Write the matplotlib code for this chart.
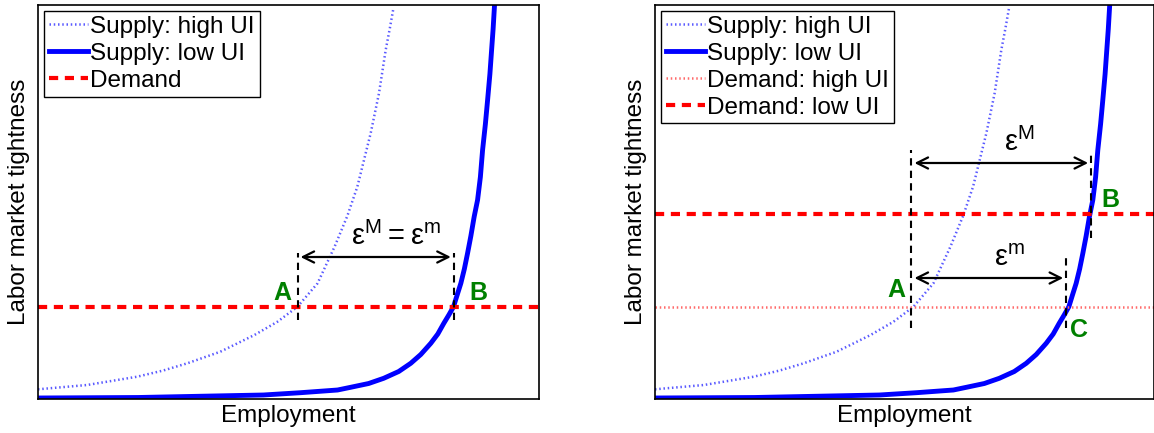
import matplotlib
matplotlib.use('Agg')
import matplotlib.pyplot as plt

plt.rcParams['font.family'] = ['Liberation Sans', 'DejaVu Sans']
plt.rcParams['mathtext.fontset'] = 'custom'
plt.rcParams['mathtext.rm'] = 'Liberation Sans'

# curves (x: employment, y: tightness, arbitrary units)
supply_low_x = [0, 100, 225, 262, 299, 312, 330, 345, 360, 372, 382, 392, 399, 405, 410,
                414.7, 418, 422, 425.5, 428.7, 432, 435.3, 438.7, 441.5, 443.7, 446.5,
                448.7, 451, 452.7, 454.2, 455.5]
supply_low_y = [1, 1.5, 4, 6.3, 9, 11.7, 15.5, 20.7, 27.5, 35.7, 44.5, 55.7, 65, 75.7, 84,
                92.3, 103, 115.7, 130, 145.7, 163, 182.3, 199, 222, 249, 275,
                299, 325, 349, 370, 392]

supply_high_x = [0, 49, 99, 125, 149, 182, 216, 239, 259, 279, 296, 308.7, 318.7, 332,
                 340.3, 347, 351, 354.7]
supply_high_y = [9.7, 14, 22.3, 28.5, 35.7, 47.3, 64, 77.3, 92.3, 115.7, 152.3, 183, 212.3,
                 265.7, 305.7, 349, 370, 390.7]

demand_left = 92
demand_high = 92
demand_low = 185

# equilibrium positions
left_A, left_B = 259, 415
right_A, right_B, right_C = 257, 437, 412

XMAX, YMAX = 500, 394


def draw_supply(ax):
    ax.plot(supply_high_x, supply_high_y, color='#5a5aff', lw=1.8, ls=(0, (0.6, 1.1)),
            label='Supply: high UI')
    ax.plot(supply_low_x, supply_low_y, color='#0000ff', lw=3.5, label='Supply: low UI')


def vdash(ax, x, y0, y1):
    ax.plot([x, x], [y0, y1], color='k', lw=1.5, ls=(0, (3.5, 2.5)), zorder=4)


def arrow(ax, x0, x1, y):
    ax.annotate('', xy=(x0, y), xytext=(x1, y),
                arrowprops=dict(arrowstyle='<->', color='k', lw=1.6, mutation_scale=20,
                                shrinkA=0, shrinkB=0))


def setup(ax):
    ax.set_xlim(0, XMAX)
    ax.set_ylim(0, YMAX)
    ax.set_xticks([])
    ax.set_yticks([])
    for s in ax.spines.values():
        s.set_linewidth(1.2)
    ax.set_xlabel('Employment', fontsize=17.5, labelpad=4)
    ax.set_ylabel('Labor market tightness', fontsize=17.5, labelpad=6)


green = '#008000'
fig = plt.figure(figsize=(11.54, 4.33), dpi=100)

# left panel
ax1 = fig.add_axes([38 / 1154, 34 / 433, 501 / 1154, 394 / 433])
draw_supply(ax1)
ax1.axhline(demand_left, color='#ff0000', lw=3, ls=(0, (2.2, 1.6)), label='Demand')
vdash(ax1, left_A, 79, 146)
vdash(ax1, left_B, 79, 146)
arrow(ax1, left_A + 3, left_B - 3, 142)
ax1.text(357, 148, r'$\mathregular{ε^M = ε^m}$', fontsize=21, ha='center', va='bottom')
ax1.text(244, 106, 'A', color=green, fontsize=18, fontweight='bold', ha='center', va='center')
ax1.text(439, 106, 'B', color=green, fontsize=18, fontweight='bold', ha='center', va='center')
setup(ax1)

# right panel
ax2 = fig.add_axes([655 / 1154, 34 / 433, 499 / 1154, 394 / 433])
draw_supply(ax2)
ax2.axhline(demand_high, color='#ff6a6a', lw=1.8, ls=(0, (0.6, 1.1)), label='Demand: high UI')
ax2.axhline(demand_low, color='#ff0000', lw=3, ls=(0, (2.2, 1.6)), label='Demand: low UI')
vdash(ax2, right_A, 71, 249)
vdash(ax2, right_B, 161, 247)
vdash(ax2, right_C, 71, 146)
arrow(ax2, right_A + 3, right_B - 3, 236)
arrow(ax2, right_A + 3, right_C - 3, 121)
ax2.text(365, 242, r'$\mathregular{ε^M}$', fontsize=21, ha='center', va='bottom')
ax2.text(355, 127, r'$\mathregular{ε^m}$', fontsize=21, ha='center', va='bottom')
ax2.text(242, 109, 'A', color=green, fontsize=18, fontweight='bold', ha='center', va='center')
ax2.text(456, 199, 'B', color=green, fontsize=18, fontweight='bold', ha='center', va='center')
ax2.text(425, 69, 'C', color=green, fontsize=18, fontweight='bold', ha='center', va='center')
setup(ax2)

for ax in (ax1, ax2):
    leg = ax.legend(loc='upper left', fontsize=17.5, frameon=True, fancybox=False,
                    handlelength=1.6, handletextpad=0.1, borderpad=0.2,
                    labelspacing=0.2, borderaxespad=0.25, framealpha=1)
    leg.get_frame().set_edgecolor('k')
    leg.get_frame().set_linewidth(1.0)

fig.savefig('out.png', dpi=100)
